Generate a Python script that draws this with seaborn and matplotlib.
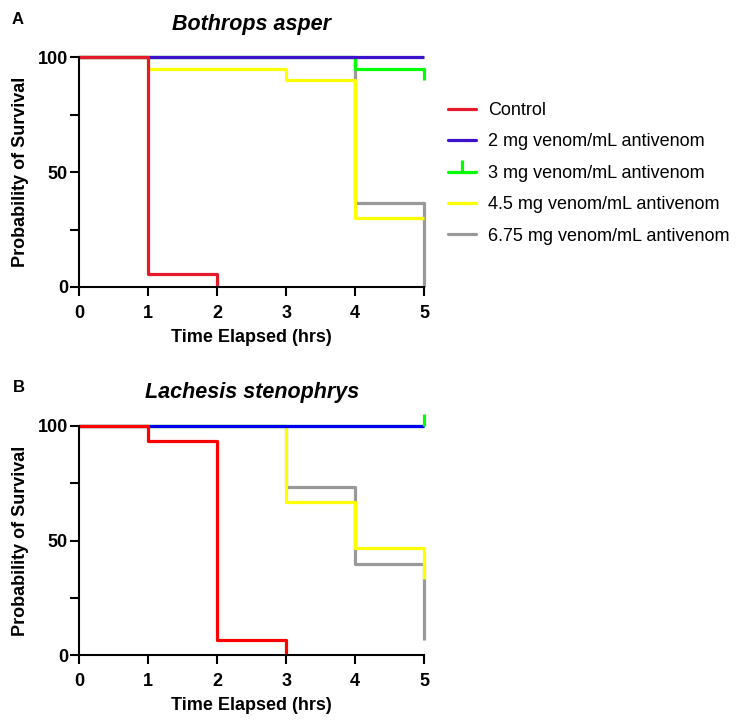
import numpy as np
import pandas as pd
import matplotlib
matplotlib.use("Agg")
import matplotlib.pyplot as plt
from matplotlib.lines import Line2D
from matplotlib.ticker import MultipleLocator
import seaborn as sns

# Kaplan-Meier step data (time in hrs, survival in %)
groups = ["Control", "2 mg venom/mL antivenom", "3 mg venom/mL antivenom",
          "4.5 mg venom/mL antivenom", "6.75 mg venom/mL antivenom"]

# panel A - Bothrops asper
a_times = {
    "Control": [0, 1, 2],
    "2 mg venom/mL antivenom": [0, 5],
    "3 mg venom/mL antivenom": [0, 4, 5],
    "4.5 mg venom/mL antivenom": [0, 1, 3, 4, 5],
    "6.75 mg venom/mL antivenom": [0, 4, 5],
}
a_surv = {
    "Control": [100, 5.6, 0],
    "2 mg venom/mL antivenom": [100, 100],
    "3 mg venom/mL antivenom": [100, 95, 90],
    "4.5 mg venom/mL antivenom": [100, 95, 90, 30, 30],
    "6.75 mg venom/mL antivenom": [100, 36.7, 0],
}

# panel B - Lachesis stenophrys
b_times = {
    "Control": [0, 1, 2, 3],
    "2 mg venom/mL antivenom": [0, 5],
    "3 mg venom/mL antivenom": [0, 5],
    "4.5 mg venom/mL antivenom": [0, 3, 4, 5],
    "6.75 mg venom/mL antivenom": [0, 3, 4, 5],
}
b_surv = {
    "Control": [100, 93.3, 6.7, 0],
    "2 mg venom/mL antivenom": [100, 100],
    "3 mg venom/mL antivenom": [100, 100],
    "4.5 mg venom/mL antivenom": [100, 66.7, 46.7, 33.3],
    "6.75 mg venom/mL antivenom": [100, 73.3, 40, 6.7],
}
b_censored = {"3 mg venom/mL antivenom": (5, 100)}

colors_a = ["#e41a2c", "#3b12c9", "#00ff00", "#ffff00", "#999999"]
colors_b = ["#ff0000", "#0000f0", "#00ff00", "#ffff00", "#999999"]

# drawing order, bottom to top
draw_order = [groups[4], groups[3], groups[2], groups[1], groups[0]]


def to_frame(times, surv):
    rows = []
    for g in groups:
        for t, s in zip(times[g], surv[g]):
            rows.append((g, t, s))
    return pd.DataFrame(rows, columns=["group", "time", "survival"])


sns.set_style("ticks")
plt.rcParams["font.family"] = ["Liberation Sans", "DejaVu Sans"]
plt.rcParams["text.color"] = "black"
plt.rcParams["axes.labelcolor"] = "black"
plt.rcParams["xtick.color"] = "black"
plt.rcParams["ytick.color"] = "black"

fig = plt.figure(figsize=(7.42, 7.22), dpi=100)
ax_a = fig.add_axes([0.1065, 0.6025, 0.4653, 0.318])
ax_b = fig.add_axes([0.1065, 0.0924, 0.4653, 0.3177])


def draw_panel(ax, times, surv, colors, title, censored=None):
    df = to_frame(times, surv)
    palette = dict(zip(groups, colors))
    sns.lineplot(data=df, x="time", y="survival", hue="group", hue_order=draw_order,
                 palette=palette, drawstyle="steps-post", estimator=None, sort=False,
                 linewidth=2.3, legend=False, ax=ax)
    if censored:
        for g, (t, s) in censored.items():
            ax.plot([t], [s], marker=2, markersize=9, markeredgewidth=2.3,
                    color=palette[g], linestyle="none")
    for ln in ax.lines:
        ln.set_clip_on(False)
        ln.set_solid_capstyle("butt")
    ax.set_xlim(0, 5)
    ax.set_ylim(0, 100)
    ax.set_xticks(range(6))
    ax.set_yticks([0, 50, 100])
    ax.yaxis.set_minor_locator(MultipleLocator(25))
    sns.despine(ax=ax)
    for sp in ["left", "bottom"]:
        ax.spines[sp].set_linewidth(1.5)
        ax.spines[sp].set_color("black")
    ax.tick_params(axis="both", which="major", length=6.5, width=1.5, labelsize=13)
    ax.tick_params(axis="x", which="major", pad=6.5)
    ax.tick_params(axis="y", which="major", pad=1.5)
    ax.tick_params(axis="y", which="minor", length=6.5, width=1.5)
    for lab in ax.get_xticklabels() + ax.get_yticklabels():
        lab.set_fontweight("bold")
    ax.set_xlabel("Time Elapsed (hrs)", fontsize=13, fontweight="bold", labelpad=5)
    ax.set_ylabel("Probability of Survival", fontsize=13, fontweight="bold", labelpad=6)
    ax.set_title(title, fontsize=15.5, fontweight="bold", fontstyle="italic", pad=20)
    ax.set_facecolor("white")


draw_panel(ax_a, a_times, a_surv, colors_a, "Bothrops asper")
draw_panel(ax_b, b_times, b_surv, colors_b, "Lachesis stenophrys", b_censored)

fig.text(18 / 742, 1 - 20 / 722, "A", fontsize=12, fontweight="bold", ha="center", va="center")
fig.text(19 / 742, 1 - 388 / 722, "B", fontsize=12, fontweight="bold", ha="center", va="center")

handles = []
for g, c in zip(groups, colors_a):
    if g == groups[2]:
        handles.append(Line2D([0], [0], color=c, lw=2.3, marker=2, markersize=9,
                              markeredgewidth=2.3, markevery=[1]))
    else:
        handles.append(Line2D([0], [0], color=c, lw=2.3))
fig.legend(handles, groups, loc="upper left", bbox_to_anchor=(448 / 742, 1 - 102 / 722),
           frameon=False, fontsize=13, handlelength=1.55, handletextpad=0.65,
           labelspacing=0.8, borderpad=0, borderaxespad=0)

fig.savefig("out.png", dpi=100, facecolor="white")
